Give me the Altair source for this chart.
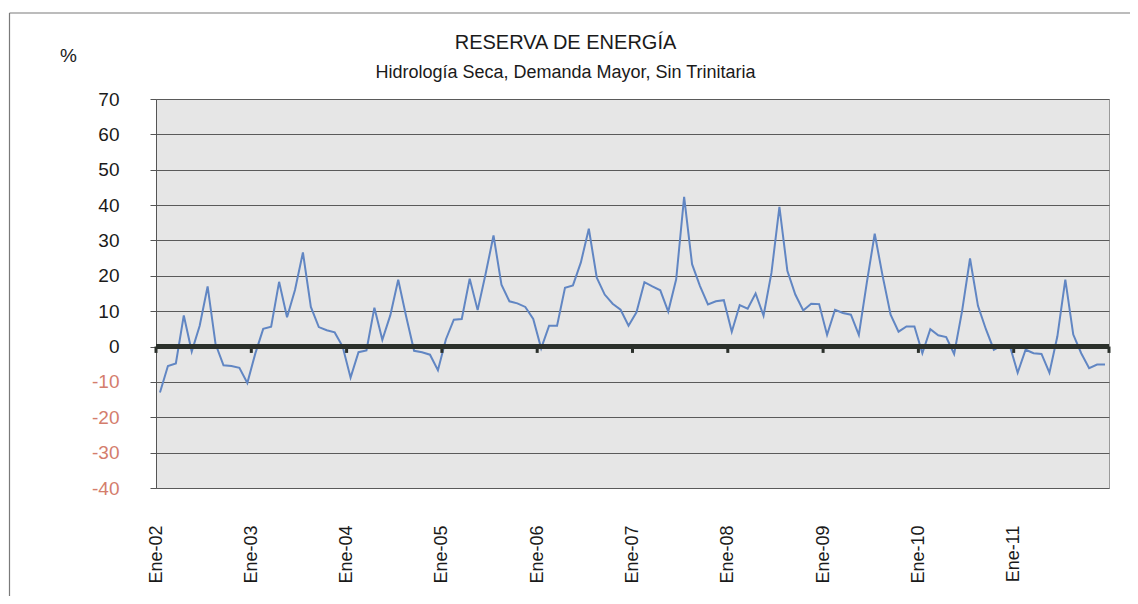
import altair as alt
import pandas as pd

# ---- data ----
tick_labels = ["Ene-02", "Ene-03", "Ene-04", "Ene-05", "Ene-06",
               "Ene-07", "Ene-08", "Ene-09", "Ene-10", "Ene-11"]

r2002 = [-13.0, -5.5, -4.8, 8.8, -1.4, 5.9, 17.0, 0.7, -5.3, -5.5, -6.0, -10.3]
r2003 = [-2.0, 5.0, 5.6, 18.3, 8.3, 16.0, 26.6, 11.2, 5.5, 4.6, 4.0, 0.0]
r2004 = [-8.8, -1.6, -1.1, 11.0, 1.9, 8.8, 18.9, 8.5, -1.2, -1.6, -2.3, -6.7]
r2005 = [2.0, 7.6, 7.8, 19.2, 10.3, 20.5, 31.4, 17.5, 12.8, 12.2, 11.2, 7.8]
r2006 = [-0.5, 5.9, 5.9, 16.6, 17.3, 23.8, 33.3, 19.5, 14.7, 12.1, 10.4, 5.9]
r2007 = [9.7, 18.2, 17.0, 15.9, 9.9, 19.0, 42.3, 23.3, 17.1, 11.9, 12.8, 13.1]
r2008 = [4.2, 11.7, 10.7, 15.0, 8.7, 20.9, 39.5, 21.4, 14.7, 10.2, 12.1, 12.0]
r2009 = [3.3, 10.4, 9.5, 9.0, 3.3, 18.0, 31.9, 19.9, 9.0, 4.2, 5.7, 5.7]
r2010 = [-1.9, 4.9, 3.2, 2.7, -2.1, 10.0, 24.9, 11.5, 4.9, -0.9, 0.3, 0.3]
r2011 = [-7.4, -0.9, -1.9, -2.1, -7.4, 2.9, 18.9, 3.4, -1.9, -6.1, -5.1, -5.1]

reserva = (r2002 + r2003 + r2004 + r2005 + r2006 +
           r2007 + r2008 + r2009 + r2010 + r2011)
year_starts = list(range(0, 121, 12))
y_ticks = list(range(-40, 71, 10))

df = pd.DataFrame({"mes": list(range(len(reserva))), "reserva": reserva})
ticks_df = pd.DataFrame({"mes": year_starts})

FONT = "Liberation Sans"
label_array = "[" + ",".join("'" + t + "'" for t in tick_labels) + "]"

x_scale = alt.Scale(domain=[0, 120], nice=False, zero=False)
y_scale = alt.Scale(domain=[-40, 70], nice=False)

x_axis = alt.Axis(values=year_starts[:-1],
                  labelExpr=label_array + "[round(datum.value/12)]",
                  labelAngle=-90, labelPadding=37, labelFontSize=18,
                  labelFont=FONT, labelColor="#1a1a1a",
                  labelOverlap=False,
                  domain=False, ticks=False, grid=False, title=None)

y_axis = alt.Axis(values=y_ticks, tickCount=len(y_ticks),
                  labelExpr="'' + datum.value",
                  labelOverlap=False,
                  grid=True, gridColor="#5a5a5a", gridWidth=1,
                  domain=True, domainColor="#555555",
                  ticks=True, tickSize=6, tickColor="#555555",
                  labelFontSize=19, labelFont=FONT, labelPadding=31,
                  labelColor={"condition": {"test": "datum.value < 0",
                                            "value": "#d47d6c"},
                              "value": "#1a1a1a"},
                  title="%", titleAngle=0, titleX=-88, titleY=-44,
                  titleAlign="center", titleBaseline="middle",
                  titleFontSize=19, titleFont=FONT,
                  titleFontWeight="normal", titleColor="#1a1a1a")

base = alt.Chart(df).transform_calculate(pos="datum.mes + 0.5")

line = base.mark_line(color="#6186c3", strokeWidth=2).encode(
    x=alt.X("pos:Q", scale=x_scale, axis=x_axis),
    y=alt.Y("reserva:Q", scale=y_scale, axis=y_axis),
)

zero_line = alt.Chart(df).mark_rule(color="#2b302b", strokeWidth=4).encode(
    y=alt.datum(0, scale=y_scale, axis=y_axis)
)

zero_ticks = alt.Chart(ticks_df).mark_rule(color="#2b302b", strokeWidth=3).encode(
    x=alt.X("mes:Q", scale=x_scale, axis=x_axis),
    y=alt.datum(0, scale=y_scale, axis=y_axis),
    y2=alt.datum(-1.8),
)

# chart-area border (only its top and left edges are inside the picture)
one_row = alt.Data(values=[{"f": 1}])
frame_top = alt.Chart(one_row).mark_rule(color="#7a7a7a", strokeWidth=1.2).encode(
    x=alt.value(-146.5), x2=alt.value(1000), y=alt.value(-86),
)
frame_left = alt.Chart(one_row).mark_rule(color="#7a7a7a", strokeWidth=1.2).encode(
    x=alt.value(-146.5), y=alt.value(-86), y2=alt.value(600),
)

chart = alt.layer(frame_top, frame_left, line, zero_line, zero_ticks).properties(
    width=953,
    height=389,
    background="white",
    title=alt.TitleParams(
        text="RESERVA DE ENERGÍA",
        subtitle="Hidrología Seca, Demanda Mayor, Sin Trinitaria",
        anchor="middle", dx=-67, offset=18, dy=88,
        font=FONT, fontSize=20, fontWeight="normal", color="#1a1a1a",
        subtitleFont=FONT, subtitleFontSize=18, subtitleColor="#1a1a1a",
        subtitlePadding=11,
    ),
    autosize=alt.AutoSizeParams(type="none"),
    padding={"left": 148, "top": 91, "right": 21, "bottom": 108},
).configure_view(
    fill="#e6e6e6", stroke="#9a9a9a", strokeWidth=1
)

chart.save("out.html", embed_options={"renderer": "svg", "actions": False})
